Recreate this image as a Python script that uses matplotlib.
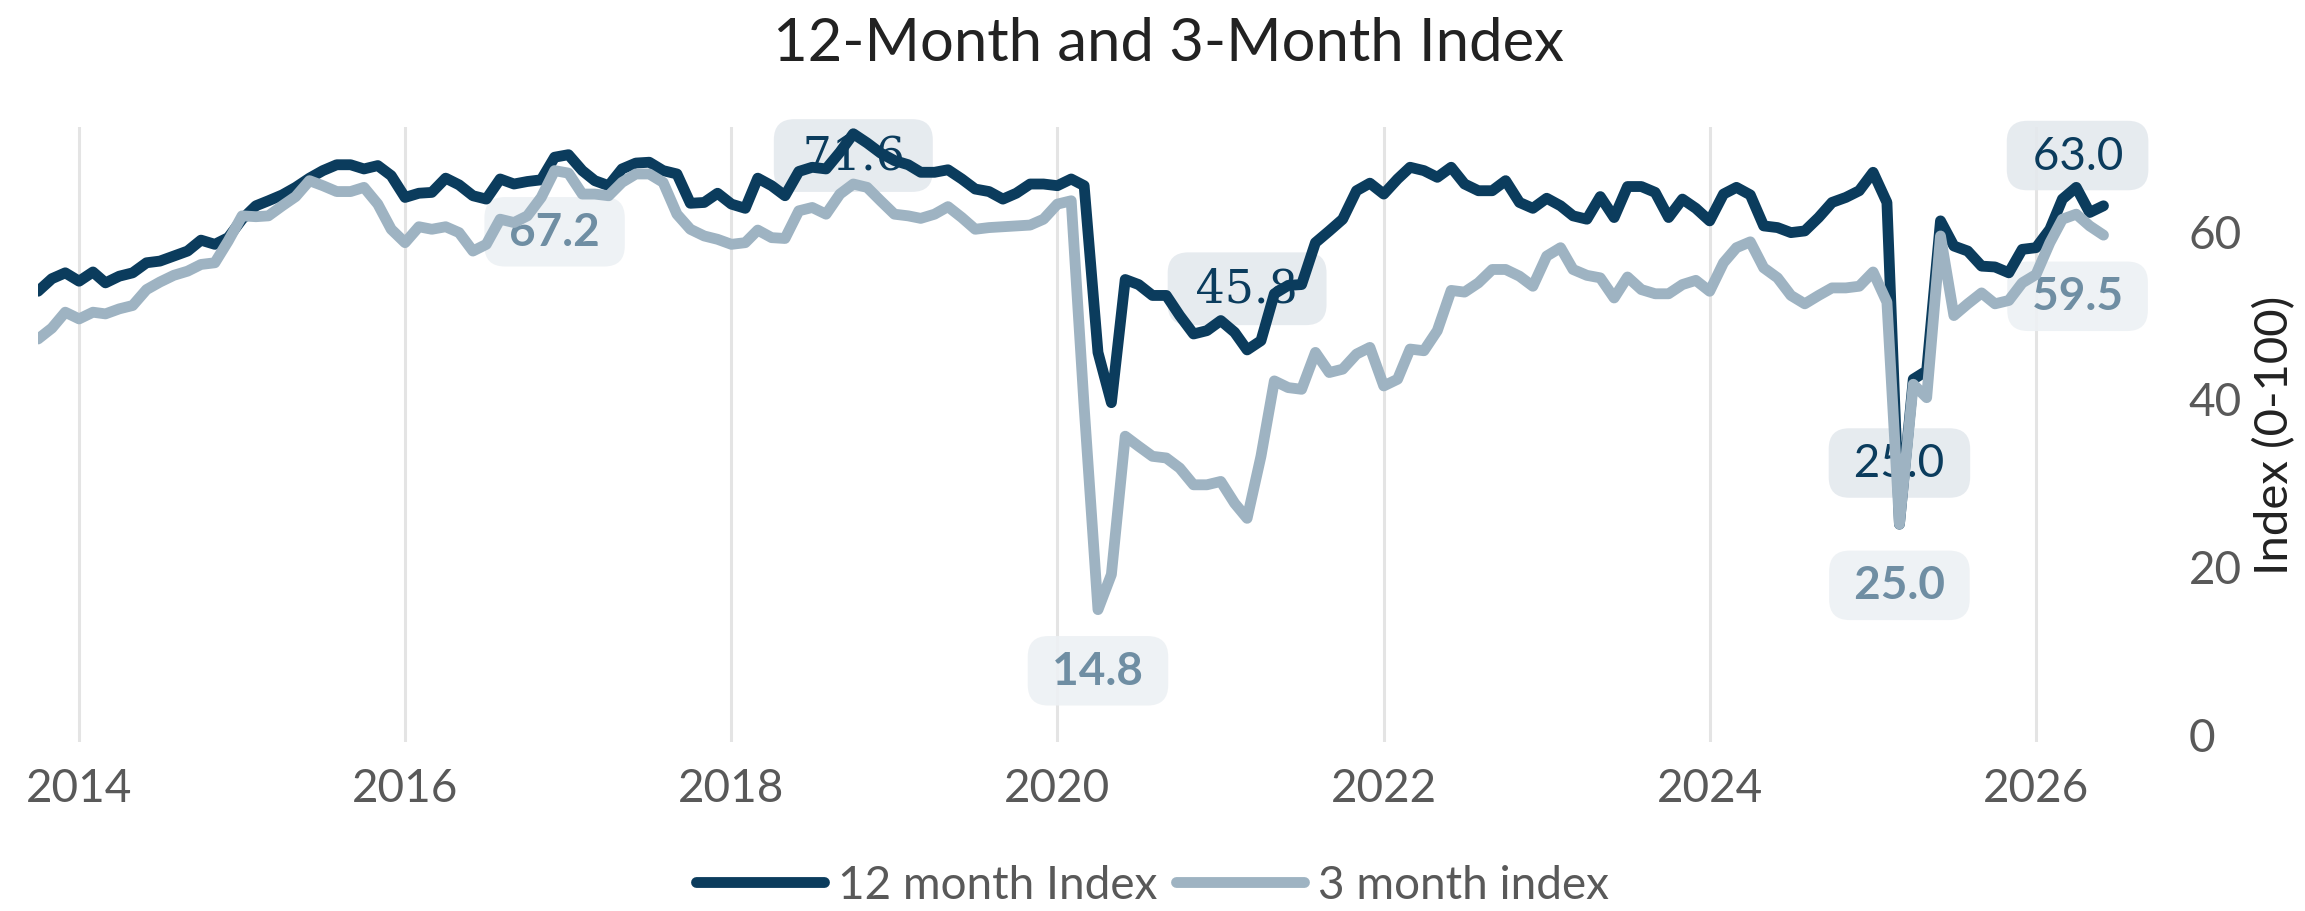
import pandas as pd
import matplotlib.pyplot as plt
import matplotlib.dates as mdates

plt.rcParams['font.family'] = ['Lato', 'DejaVu Sans']

# monthly index values, Oct 2013 - Jun 2026
dates = pd.date_range('2013-10-01', periods=153, freq='MS')

idx_12m = [
    52.8, 54.3, 55.0,
    54.0, 55.1, 53.8, 54.6, 55.0, 56.2, 56.4, 57.0, 57.6, 58.9, 58.4, 59.2,
    61.4, 63.0, 63.6, 64.3, 65.2, 66.3, 67.2, 67.9, 67.9, 67.4, 67.8, 66.6,
    64.0, 64.5, 64.6, 66.3, 65.5, 64.2, 63.8, 66.2, 65.6, 65.9, 66.1, 68.8,
    69.1, 67.2, 66.0, 65.4, 67.4, 68.1, 68.2, 67.2, 66.8, 63.3, 63.4, 64.5,
    63.2, 62.7, 66.3, 65.4, 64.2, 67.1, 67.6, 67.4, 69.4, 71.6, 70.5, 69.3,
    68.4, 67.9, 67.0, 67.0, 67.3, 66.2, 65.0, 64.7, 63.8, 64.5, 65.6, 65.6,
    65.4, 66.2, 65.4, 45.5, 39.5, 54.2, 53.6, 52.3, 52.3, 49.9, 47.7, 48.1,
    49.3, 47.9, 45.8, 46.9, 52.5, 53.5, 53.6, 58.6, 60.0, 61.4, 64.8, 65.7,
    64.4, 66.2, 67.6, 67.2, 66.4, 67.6, 65.6, 64.8, 64.8, 66.0, 63.4, 62.7,
    63.9, 63.0, 61.8, 61.4, 64.1, 61.6, 65.3, 65.3, 64.6, 61.6, 63.8, 62.7,
    61.2, 64.4, 65.2, 64.3, 60.6, 60.4, 59.8, 60.0, 61.6, 63.4, 64.0, 64.8,
    67.0, 63.4, 25.0, 42.3, 43.3, 61.2, 58.2, 57.6, 55.8, 55.7, 55.0, 57.8,
    58.0, 60.2, 63.8, 65.2, 62.2, 63.0,
]

idx_3m = [
    47.1, 48.4, 50.3,
    49.5, 50.3, 50.1, 50.7, 51.1, 53.0, 53.9, 54.7, 55.2, 56.0, 56.2, 58.8,
    61.8, 61.7, 61.8, 63.0, 64.1, 66.0, 65.4, 64.7, 64.7, 65.2, 63.2, 60.2,
    58.6, 60.5, 60.2, 60.5, 59.8, 57.6, 58.4, 61.4, 61.0, 61.8, 64.0, 67.2,
    66.9, 64.4, 64.4, 64.2, 65.8, 66.8, 66.8, 65.8, 62.0, 60.2, 59.4, 59.0,
    58.4, 58.6, 60.1, 59.2, 59.1, 62.4, 62.8, 62.0, 64.4, 65.6, 65.2, 63.6,
    62.0, 61.8, 61.5, 62.0, 62.9, 61.6, 60.2, 60.4, 60.5, 60.6, 60.7, 61.4,
    63.2, 63.6, 39.0, 14.8, 19.0, 35.5, 34.3, 33.1, 32.9, 31.7, 29.7, 29.7,
    30.1, 27.5, 25.7, 33.1, 42.1, 41.3, 41.1, 45.5, 43.1, 43.5, 45.3, 46.1,
    41.5, 42.3, 45.9, 45.7, 48.1, 52.9, 52.7, 53.8, 55.4, 55.4, 54.6, 53.4,
    57.0, 58.0, 55.4, 54.7, 54.4, 52.0, 54.5, 53.0, 52.5, 52.5, 53.6, 54.1,
    52.8, 56.2, 58.0, 58.7, 55.6, 54.4, 52.3, 51.3, 52.3, 53.2, 53.2, 53.4,
    55.1, 51.5, 25.0, 41.7, 40.1, 59.4, 49.9, 51.3, 52.6, 51.3, 51.7, 53.8,
    54.8, 58.6, 61.4, 62.0, 60.6, 59.5,
]

# months that carry a value label
label_dates_12m = ['2018-10-01', '2021-03-01', '2025-03-01', '2026-06-01']
label_dates_3m = ['2016-12-01', '2020-04-01', '2025-03-01', '2026-06-01']

dark = '#0b3c5d'
light = '#9eb3c2'

fig = plt.figure(figsize=(23.05, 9.12), dpi=100)
ax = fig.add_axes([0.0165, 0.1853, 0.9197, 0.6743])

ax.plot(dates, idx_12m, color=dark, lw=7.8, solid_joinstyle='round',
        solid_capstyle='round', zorder=3, label='12 month Index')
ax.plot(dates, idx_3m, color=light, lw=7.8, solid_joinstyle='round',
        solid_capstyle='round', zorder=4, label='3 month index')

s12 = pd.Series(idx_12m, index=dates)
s3 = pd.Series(idx_3m, index=dates)


def put_label(d, v, above, txtcol, boxcol, weight, family):
    d = pd.Timestamp(d)
    y = v + 7.3 if above else v - 7.3
    y = min(y, 69.0)
    if d == dates[-1]:
        d = d - pd.Timedelta(days=58)
    ax.text(d, y, ' %.1f ' % v, ha='center', va='center', fontsize=33,
            color=txtcol, fontweight=weight, family=family, zorder=2,
            bbox=dict(boxstyle='round,pad=0.3,rounding_size=0.45',
                      fc=boxcol, ec='none', alpha=0.9))


for d in label_dates_12m:
    fam = ['DejaVu Serif'] if d in ('2018-10-01', '2021-03-01') else ['Lato', 'DejaVu Sans']
    put_label(d, s12[d], True, dark, '#e4e9ee', 'normal', fam)
for d in label_dates_3m:
    put_label(d, s3[d], False, '#6f8ea3', '#edf1f4', 'bold', ['Lato', 'DejaVu Sans'])

ax.set_xlim(dates[0], pd.Timestamp('2026-10-01'))
ax.set_ylim(-1, 72.4)
ax.xaxis.set_major_locator(mdates.YearLocator(2))
ax.xaxis.set_major_formatter(mdates.DateFormatter('%Y'))
ax.yaxis.tick_right()
ax.yaxis.set_label_position('right')
ax.set_yticks([0, 20, 40, 60])
ax.tick_params(axis='x', length=0, pad=18, labelsize=33, labelcolor='#595959')
ax.tick_params(axis='y', length=0, pad=22, labelsize=33, labelcolor='#595959')
ax.grid(axis='x', color='#e4e4e4', lw=2.2, zorder=0)
ax.grid(axis='y', visible=False)
for s in ax.spines.values():
    s.set_visible(False)
ax.set_ylabel('Index (0-100)', fontsize=34, color='#222222', labelpad=8)

fig.text(0.507, 0.952, '12-Month and 3-Month Index', ha='center', va='center',
         fontsize=43, color='#222222')

leg = fig.legend(loc='center', bbox_to_anchor=(0.5, 0.029), ncol=2, frameon=False,
                 fontsize=33, handlelength=2.8, handletextpad=0.3, columnspacing=0.4)
for t in leg.get_texts():
    t.set_color('#595959')

fig.savefig('out.png', dpi=100)
